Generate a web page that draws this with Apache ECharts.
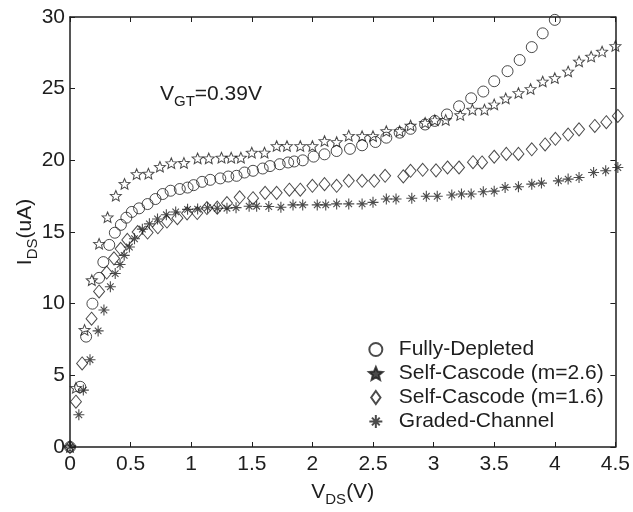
<!DOCTYPE html>
<html>
<head>
<meta charset="utf-8">
<script src="https://cdn.jsdelivr.net/npm/echarts@6/dist/echarts.min.js"></script>
<style>
html, body { margin: 0; padding: 0; background: #fff; }
#chart { width: 633px; height: 512px; }
</style>
</head>
<body>
<div id="chart"></div>
<script>
// 数据
var xTicks = [0, 0.5, 1, 1.5, 2, 2.5, 3, 3.5, 4, 4.5];
var yTicks = [0, 5, 10, 15, 20, 25, 30];
var seriesNames = ['Fully-Depleted', 'Self-Cascode (m=2.6)', 'Self-Cascode (m=1.6)', 'Graded-Channel'];

var fullyDepleted = [[0,0],[0.084,4.2],[0.133,7.7],[0.185,10.0],[0.24,11.8],[0.275,12.9],[0.324,14.1],[0.37,14.95],[0.42,15.5],[0.465,16.0],[0.51,16.4],[0.57,16.65],[0.64,16.95],[0.705,17.3],[0.765,17.65],[0.83,17.88],[0.906,18.0],[0.97,18.1],[1.02,18.27],[1.09,18.5],[1.157,18.64],[1.24,18.74],[1.306,18.87],[1.374,18.92],[1.44,19.15],[1.51,19.27],[1.59,19.43],[1.65,19.6],[1.73,19.73],[1.80,19.85],[1.85,19.92],[1.92,20.0],[2.01,20.26],[2.10,20.42],[2.20,20.65],[2.31,20.8],[2.41,21.05],[2.52,21.28],[2.61,21.58],[2.72,21.93],[2.81,22.2],[2.93,22.5],[3.01,22.75],[3.11,23.2],[3.21,23.77],[3.31,24.33],[3.41,24.8],[3.50,25.52],[3.61,26.22],[3.71,27.0],[3.81,27.9],[3.90,28.86],[4.0,29.8]];

var cascode26 = [[0,0],[0.049,4.13],[0.12,8.17],[0.18,11.64],[0.24,14.18],[0.31,16.03],[0.378,17.53],[0.45,18.36],[0.55,19.04],[0.647,19.07],[0.742,19.55],[0.836,19.8],[0.94,19.82],[1.053,20.14],[1.145,20.14],[1.25,20.19],[1.33,20.19],[1.41,20.19],[1.50,20.54],[1.605,20.54],[1.705,21.0],[1.79,21.0],[1.90,21.0],[2.0,21.0],[2.10,21.35],[2.20,21.28],[2.30,21.72],[2.41,21.69],[2.50,21.69],[2.61,22.04],[2.72,22.04],[2.81,22.43],[2.93,22.62],[3.01,22.8],[3.10,22.82],[3.22,23.16],[3.32,23.54],[3.42,23.54],[3.50,23.9],[3.595,24.32],[3.70,24.7],[3.80,24.98],[3.90,25.5],[4.0,25.74],[4.11,26.2],[4.20,26.9],[4.30,27.24],[4.39,27.59],[4.50,27.98]];

var cascode16 = [[0,0],[0.049,3.16],[0.10,5.83],[0.178,8.95],[0.24,10.85],[0.303,12.17],[0.363,13.16],[0.418,13.83],[0.473,14.45],[0.558,15.0],[0.64,14.96],[0.725,15.33],[0.80,15.73],[0.886,15.96],[0.966,16.3],[1.05,16.32],[1.13,16.67],[1.215,16.7],[1.295,17.02],[1.40,17.42],[1.51,17.36],[1.61,17.73],[1.705,17.73],[1.81,17.95],[1.90,17.95],[2.0,18.22],[2.10,18.34],[2.20,18.22],[2.30,18.57],[2.41,18.57],[2.51,18.57],[2.60,18.92],[2.75,18.88],[2.81,19.27],[2.91,19.34],[3.02,19.3],[3.115,19.5],[3.21,19.5],[3.325,19.87],[3.40,19.85],[3.50,20.25],[3.60,20.45],[3.70,20.45],[3.81,20.77],[3.92,21.11],[4.005,21.5],[4.11,21.8],[4.20,22.16],[4.33,22.4],[4.425,22.66],[4.52,23.1]];

var gradedChannel = [[0,0],[0.073,2.25],[0.11,3.97],[0.165,6.09],[0.232,8.1],[0.28,9.56],[0.333,11.18],[0.373,12.1],[0.413,12.73],[0.447,13.37],[0.49,13.95],[0.532,14.53],[0.597,15.2],[0.655,15.57],[0.722,15.91],[0.795,16.2],[0.872,16.4],[0.97,16.58],[1.053,16.6],[1.135,16.69],[1.215,16.66],[1.295,16.66],[1.37,16.7],[1.478,16.8],[1.54,16.8],[1.64,16.78],[1.74,16.73],[1.84,16.89],[1.92,16.89],[2.04,16.89],[2.11,16.89],[2.20,16.96],[2.30,16.96],[2.41,16.96],[2.50,17.07],[2.61,17.3],[2.69,17.3],[2.82,17.35],[2.94,17.49],[3.03,17.49],[3.15,17.58],[3.23,17.65],[3.31,17.65],[3.41,17.81],[3.50,17.85],[3.59,18.11],[3.70,18.16],[3.81,18.34],[3.89,18.41],[4.03,18.57],[4.11,18.69],[4.20,18.8],[4.32,19.15],[4.42,19.27],[4.52,19.5]];

var INK = '#1e1e1e';
var FONT = '"Liberation Sans", Arial, Helvetica, sans-serif';
var FS = 21;
var STAR = 'path://M0,-100L26.5,-36.4L95.1,-30.9L42.8,13.9L58.8,80.9L0,45L-58.8,80.9L-42.8,13.9L-95.1,-30.9L-26.5,-36.4Z';
var DIAMOND = 'path://M0,-70L50,0L0,70L-50,0Z';
var ASTERISK = 'path://M0,-100L0,100M-100,0L100,0M-60,-60L60,60M-60,60L60,-60';

var chartInstance = echarts.init(document.getElementById('chart'), null, {renderer: 'canvas'});

function hollow(){
    return {color: 'rgba(0,0,0,0)', borderColor: INK, borderWidth: 1};
}
// 带下标的文字样式
function subRich(){
    return {
        m: {fontSize: FS, fontFamily: FONT, color: INK, fill: INK, verticalAlign: 'top'},
        s: {fontSize: 15, fontFamily: FONT, color: INK, fill: INK, verticalAlign: 'top', padding: [10, 0, 0, 0]}
    };
}

var sharedAxis = {
    type: 'value',
    axisLine: {show: true, onZero: false, lineStyle: {color: INK, width: 1.5}},
    axisTick: {show: true, inside: true, length: 5, lineStyle: {color: INK, width: 1}},
    splitLine: {show: false}
};

var option = {
    backgroundColor: '#fff',
    animation: false,
    textStyle: {fontFamily: FONT},
    grid: {left: 70, right: 11.5, top: 17, bottom: 62.5},
    xAxis: [
        Object.assign({}, sharedAxis, {
            position: 'bottom', min: xTicks[0], max: xTicks[xTicks.length - 1], interval: xTicks[1] - xTicks[0],
            axisLabel: {color: INK, fontSize: FS, margin: 7, fontFamily: FONT},
            name: '{m|V}{s|DS}{m|(V)}', nameLocation: 'middle', nameGap: 35,
            nameTextStyle: {color: INK, rich: subRich()}
        }),
        Object.assign({}, sharedAxis, {
            position: 'top', min: xTicks[0], max: xTicks[xTicks.length - 1], interval: xTicks[1] - xTicks[0],
            axisLabel: {show: false}
        })
    ],
    yAxis: [
        Object.assign({}, sharedAxis, {
            position: 'left', min: yTicks[0], max: yTicks[yTicks.length - 1], interval: yTicks[1] - yTicks[0],
            axisLabel: {color: INK, fontSize: FS, margin: 5, fontFamily: FONT},
            name: '{m|I}{s|DS}{m|(uA)}', nameLocation: 'middle', nameGap: 30, nameMoveOverlap: false,
            nameTextStyle: {color: INK, rich: subRich()}
        }),
        Object.assign({}, sharedAxis, {
            position: 'right', min: yTicks[0], max: yTicks[yTicks.length - 1], interval: yTicks[1] - yTicks[0],
            axisLabel: {show: false}
        })
    ],
    legend: {
        orient: 'vertical',
        left: 363, top: 334,
        itemWidth: 36, itemHeight: 13, itemGap: 3,
        textStyle: {fontSize: FS, color: INK, fontFamily: FONT},
        data: [
            {name: seriesNames[0]},
            {name: seriesNames[1], itemStyle: {color: INK, borderColor: INK}},
            {name: seriesNames[2]},
            {name: seriesNames[3]}
        ]
    },
    graphic: [{
        type: 'text', left: 160, top: 84,
        style: {text: '{m|V}{s|GT}{m|=0.39V}', rich: subRich()}
    }],
    series: [{
        name: seriesNames[0], type: 'scatter', clip: false,
        symbol: 'circle', symbolSize: 11,
        itemStyle: hollow(),
        data: fullyDepleted
    }, {
        name: seriesNames[1], type: 'scatter', clip: false,
        symbol: STAR, symbolSize: [11, 10.5],
        itemStyle: hollow(),
        data: cascode26
    }, {
        name: seriesNames[2], type: 'scatter', clip: false,
        symbol: DIAMOND, symbolSize: [11, 13],
        itemStyle: hollow(),
        data: cascode16
    }, {
        name: seriesNames[3], type: 'scatter', clip: false,
        symbol: ASTERISK, symbolSize: 11,
        itemStyle: {color: INK, borderColor: INK, borderWidth: 1.1},
        data: gradedChannel
    }]
};
chartInstance.setOption(option, true);
window.onresize = function(){
    chartInstance.resize();
}
</script>
</body>
</html>
